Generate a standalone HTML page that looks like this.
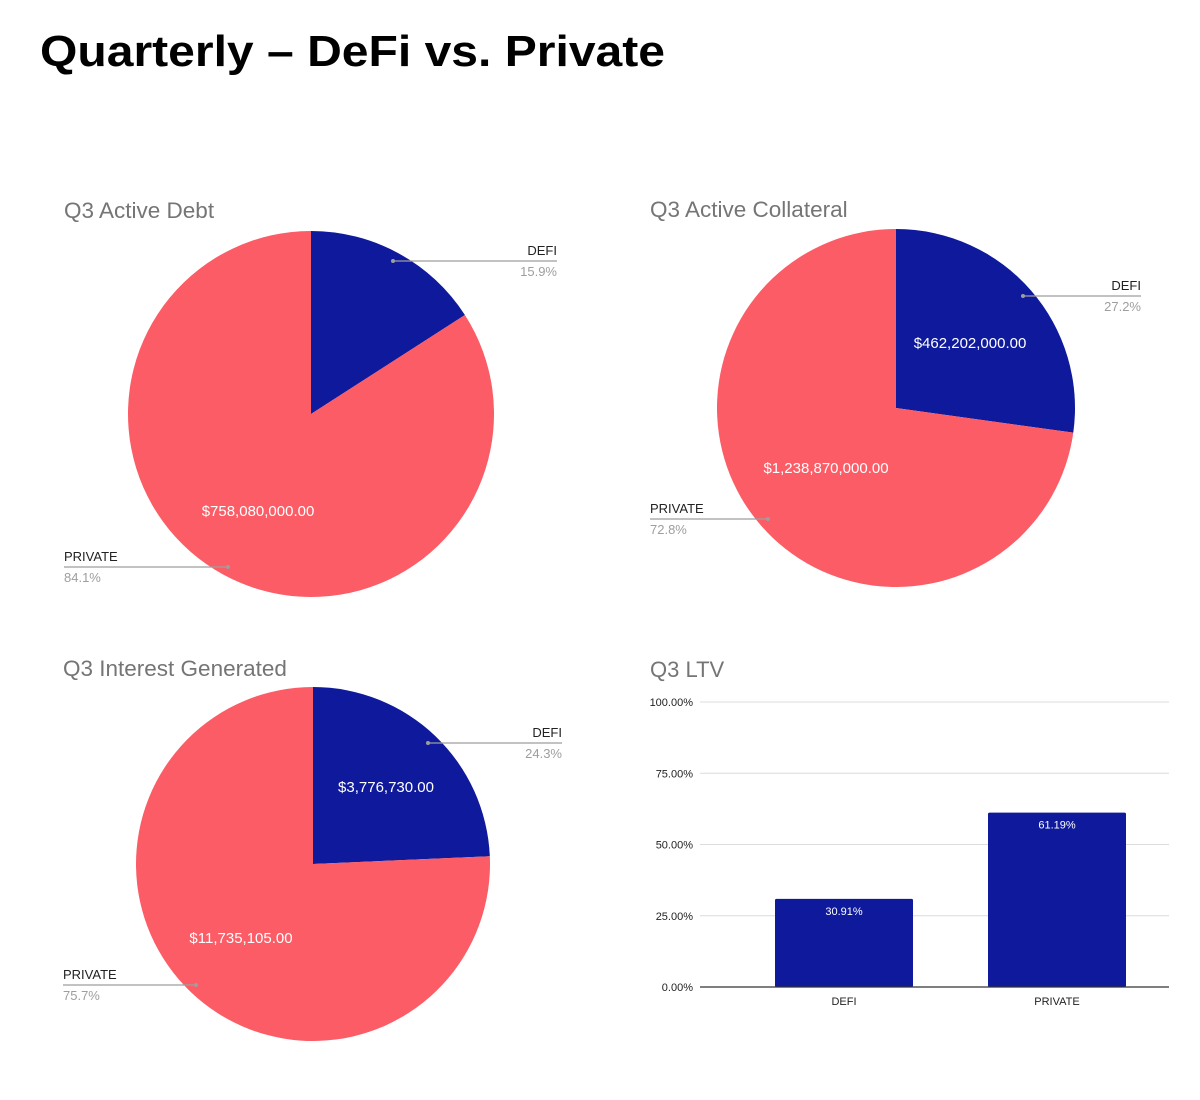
<!DOCTYPE html>
<html><head><meta charset="utf-8"><style>
body{margin:0;background:#fff;width:1200px;height:1100px;overflow:hidden;font-family:"Liberation Sans",sans-serif}
svg{position:absolute;left:0;top:0}
</style></head><body>
<svg width="1200" height="1100" id="s">
<text x="40" y="66" font-size="44" font-weight="bold" fill="#000" textLength="625" lengthAdjust="spacingAndGlyphs">Quarterly – DeFi vs. Private</text>
</svg>
<script>
const pieTitles=["Q3 Active Debt","Q3 Active Collateral","Q3 Interest Generated"];
const defiPct=[15.9,27.2,24.3];
const privatePct=[84.1,72.8,75.7];
const defiValues=["","$462,202,000.00","$3,776,730.00"];
const privateValues=["$758,080,000.00","$1,238,870,000.00","$11,735,105.00"];
const barCats=["DEFI","PRIVATE"];
const barVals=[30.91,61.19];
const barLabels=["30.91%","61.19%"];
const yTicks=[0,25,50,75,100];
const yTickLabels=["0.00%","25.00%","50.00%","75.00%","100.00%"];

const NS="http://www.w3.org/2000/svg",S=document.getElementById('s');
function mk(t,a,txt){const e=document.createElementNS(NS,t);for(const k in a)e.setAttribute(k,a[k]);if(txt!=null)e.textContent=txt;S.appendChild(e);return e;}
const RED="#fb5c65",BLUE="#0e1a9b";
const layout=[
 {cx:311,cy:414,r:183,tx:64,ty:218,dLine:[393,261,557],pLine:[64,567,228],dv:[-0.5,0],pv:[258,516]},
 {cx:896,cy:408,r:179,tx:650,ty:217,dLine:[1023,296,1141],pLine:[650,519,768],dv:[970,348],pv:[826,473]},
 {cx:313,cy:864,r:177,tx:63,ty:676,dLine:[428,743,562],pLine:[63,985,196],dv:[386,792],pv:[241,943]}
];
function pt(L,f){const a=f*2*Math.PI;return [L.cx+L.r*Math.sin(a),L.cy-L.r*Math.cos(a)];}
layout.forEach((L,i)=>{
 let t=mk('text',{x:L.tx,y:L.ty,'font-size':22.5,fill:'#757575'},pieTitles[i]);
 
 
 const f=defiPct[i]/(defiPct[i]+privatePct[i]);
 const e=pt(L,f);
 let p=mk('path',{d:`M${L.cx},${L.cy}L${L.cx},${L.cy-L.r}A${L.r},${L.r} 0 ${f>0.5?1:0} 1 ${e[0]},${e[1]}Z`,fill:BLUE});
 
 
 let q=mk('path',{d:`M${L.cx},${L.cy}L${e[0]},${e[1]}A${L.r},${L.r} 0 ${f<0.5?1:0} 1 ${L.cx},${L.cy-L.r}Z`,fill:RED});
 
 
 const d=L.dLine,pl=L.pLine;
 mk('line',{x1:d[0],y1:d[1],x2:d[2],y2:d[1],stroke:'#9e9e9e','stroke-width':1.3});
 mk('circle',{cx:d[0],cy:d[1],r:2,fill:'#9e9e9e'});
 let a=mk('text',{x:d[2],y:d[1]-6,'font-size':13,fill:'#222','text-anchor':'end'},'DEFI');
 
 
 mk('text',{x:d[2],y:d[1]+15,'font-size':13,fill:'#9e9e9e','text-anchor':'end'},defiPct[i].toFixed(1)+'%');
 mk('line',{x1:pl[0],y1:pl[1],x2:pl[2],y2:pl[1],stroke:'#9e9e9e','stroke-width':1.3});
 mk('circle',{cx:pl[2],cy:pl[1],r:2,fill:'#9e9e9e'});
 let b=mk('text',{x:pl[0],y:pl[1]-6,'font-size':13,fill:'#222'},'PRIVATE');
 
 
 mk('text',{x:pl[0],y:pl[1]+15,'font-size':13,fill:'#9e9e9e'},privatePct[i].toFixed(1)+'%');
 if(defiValues[i])mk('text',{x:L.dv[0],y:L.dv[1],'font-size':15,fill:'#fff','text-anchor':'middle'},defiValues[i]);
 mk('text',{x:L.pv[0],y:L.pv[1],'font-size':15,fill:'#fff','text-anchor':'middle'},privateValues[i]);
});
// bar chart
let bt=mk('text',{x:650,y:677,'font-size':22,fill:'#757575'},'Q3 LTV');


const X0=700,X1=1169,Y0=987,Y100=702,BX0=737.5,BX1=1163.5;
const y=v=>Y0-(v/100)*(Y0-Y100);
yTicks.forEach((v,i)=>{
 if(v>0)mk('line',{x1:X0,y1:y(v),x2:X1,y2:y(v),stroke:'#dcdcdc','stroke-width':1});
 let l=mk('text',{x:693,y:y(v)+4,'font-size':11,fill:'#222','text-anchor':'end'},yTickLabels[i]);
 
 
});
const band=(BX1-BX0)/barCats.length,bw=138;
barCats.forEach((c,i)=>{
 const cx=BX0+band*(i+0.5);
 let r=mk('rect',{x:cx-bw/2,y:y(barVals[i]),width:bw,height:Y0-y(barVals[i]),fill:BLUE,rx:1.5});
 
 
 mk('text',{x:cx,y:y(barVals[i])+16,'font-size':11,fill:'#fff','text-anchor':'middle'},barLabels[i]);
 let xl=mk('text',{x:cx,y:1005,'font-size':11,fill:'#222','text-anchor':'middle'},c);
 
 
});
mk('line',{x1:X0,y1:Y0,x2:X1,y2:Y0,stroke:'#333','stroke-width':1.2});
</script>
</body></html>
